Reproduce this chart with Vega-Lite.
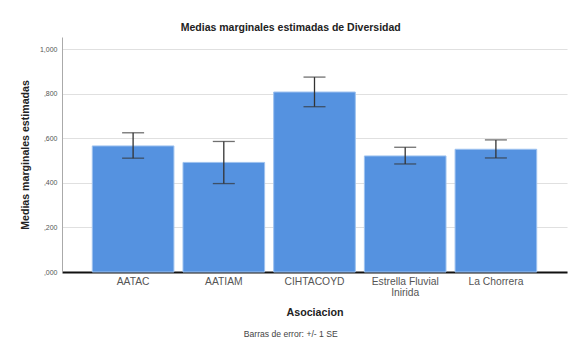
{
  "$schema": "https://vega.github.io/schema/vega-lite/v6.json",
  "padding": {"left": 20, "top": 22, "right": 2, "bottom": 0},
  "background": "white",
  "title": {"text": "Barras de error: +/- 1 SE", "orient": "bottom", "anchor": "middle", "frame": "bounds", "fontSize": 8.6, "fontWeight": "normal", "font": "Liberation Sans", "color": "#444", "offset": 13, "dx": -3},
  "vconcat": [
    {
      "title": {"text": "Medias marginales estimadas de Diversidad", "anchor": "middle", "frame": "bounds", "fontSize": 10.5, "fontWeight": "bold", "font": "Liberation Sans", "color": "#222", "offset": 4, "dx": -3},
      "width": 505,
      "height": 235,
      "data": {"values": [
        {"Asociacion": "AATAC", "media": 0.566, "inf": 0.511, "sup": 0.625},
        {"Asociacion": "AATIAM", "media": 0.492, "inf": 0.397, "sup": 0.586},
        {"Asociacion": "CIHTACOYD", "media": 0.808, "inf": 0.742, "sup": 0.875},
        {"Asociacion": "Estrella Fluvial Inirida", "media": 0.521, "inf": 0.485, "sup": 0.560},
        {"Asociacion": "La Chorrera", "media": 0.551, "inf": 0.512, "sup": 0.593}
      ]},
      "encoding": {
        "x": {
          "field": "Asociacion", "type": "nominal", "sort": null,
          "scale": {"paddingInner": 0.1, "paddingOuter": 0.334},
          "axis": {
            "title": "Asociacion", "titleFont": "Liberation Sans", "titleFontSize": 10.7, "titleFontWeight": "bold", "titleColor": "#222", "titlePadding": 10,
            "labelAngle": 0, "labelFont": "Liberation Sans", "labelFontSize": 10.3, "labelColor": "#555", "labelPadding": 4, "labelLineHeight": 11,
            "labelExpr": "datum.label == 'Estrella Fluvial Inirida' ? ['Estrella Fluvial', 'Inirida'] : datum.label",
            "ticks": false, "domainColor": "#111", "domainWidth": 2, "grid": false
          }
        }
      },
      "layer": [
        {
          "mark": {"type": "bar", "fill": "#5592e0", "stroke": "#9ec2ef", "strokeWidth": 1},
          "encoding": {
            "y": {
              "field": "media", "type": "quantitative",
              "scale": {"domain": [0, 1.055], "nice": false},
              "axis": {
                "title": "Medias marginales estimadas", "titleFont": "Liberation Sans", "titleFontSize": 10.6, "titleFontWeight": "bold", "titleColor": "#222", "titlePadding": 9,
                "values": [0, 0.2, 0.4, 0.6, 0.8, 1],
                "labelExpr": "datum.value >= 1 ? '1,000' : replace(format(datum.value, '.3f'), '0.', ',')",
                "labelFont": "Liberation Sans", "labelFontSize": 7, "labelColor": "#555", "labelPadding": 5,
                "ticks": false, "domainColor": "#aaa", "domainWidth": 1,
                "grid": true, "gridColor": "#e0e0e0", "gridWidth": 1.2
              }
            }
          }
        },
        {
          "mark": {"type": "rule", "color": "#333", "strokeWidth": 1.3},
          "encoding": {
            "y": {"field": "inf", "type": "quantitative"},
            "y2": {"field": "sup"}
          }
        },
        {
          "mark": {"type": "tick", "color": "#333", "thickness": 1.3, "size": 22},
          "encoding": {"y": {"field": "inf", "type": "quantitative"}}
        },
        {
          "mark": {"type": "tick", "color": "#333", "thickness": 1.3, "size": 22},
          "encoding": {"y": {"field": "sup", "type": "quantitative"}}
        }
      ]
    }
  ],
  "config": {"view": {"stroke": null}, "concat": {"spacing": 0}, "font": "Liberation Sans"}
}
